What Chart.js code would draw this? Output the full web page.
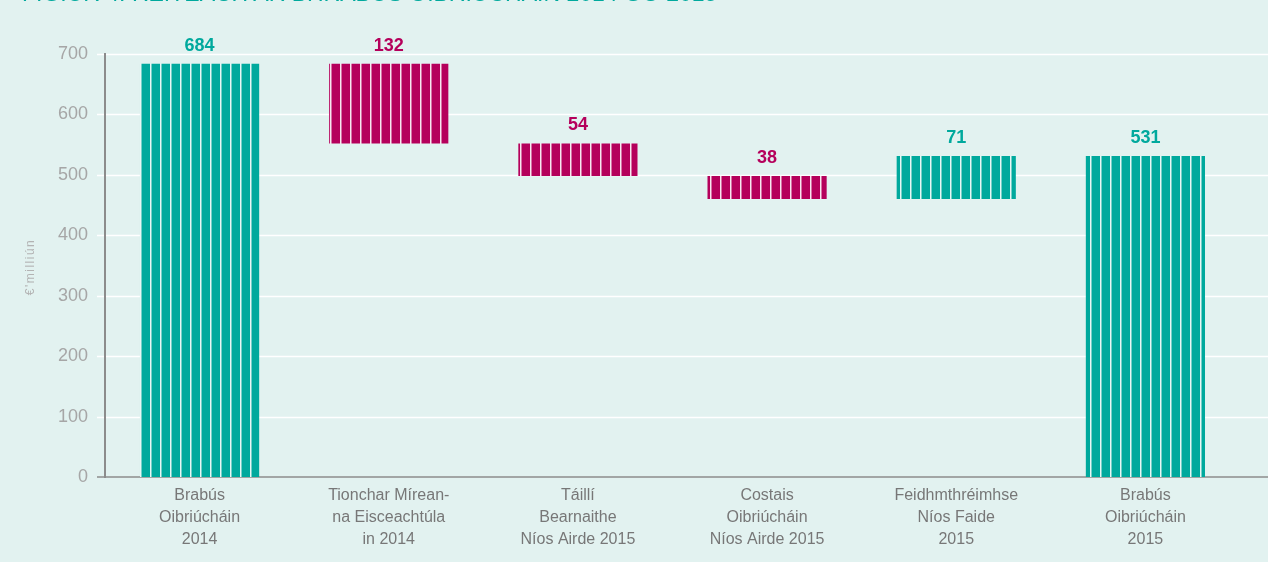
<!DOCTYPE html>
<html>
<head>
<meta charset="utf-8">
<script src="https://cdn.jsdelivr.net/npm/chart.js@4.4.0/dist/chart.umd.min.js"></script>
<style>
  html, body { margin: 0; padding: 0; background: #e2f2f0; overflow: hidden; }
  #wrap { position: relative; width: 1268px; height: 562px; }
  #title { position: absolute; left: 22px; top: -18px; font: 23px "Liberation Sans", Arial, sans-serif;
           line-height: 23px; color: #00a99d; white-space: nowrap; }
</style>
</head>
<body>
<div id="wrap">
  <div id="title">FIGIÚR 4: RÉITEACH AR BHRABÚS OIBRIÚCHÁIN 2014 GO 2015</div>
  <canvas id="myChart" width="1268" height="562"></canvas>
</div>
<script>
// categories (x axis, multi-line)
var categories = [
  ["Brabús", "Oibriúcháin", "2014"],
  ["Tionchar Mírean-", "na Eisceachtúla", "in 2014"],
  ["Táillí", "Bearnaithe", "Níos Airde 2015"],
  ["Costais", "Oibriúcháin", "Níos Airde 2015"],
  ["Feidhmthréimhse", "Níos Faide", "2015"],
  ["Brabús", "Oibriúcháin", "2015"]
];
// change per step; totals are marked in isTotal
var values = [684, -132, -54, -38, 71, 531];
var isTotal = [true, false, false, false, false, true];
var yTicks = [0, 100, 200, 300, 400, 500, 600, 700];
var yTitle = "€'milliún";

var teal = '#00a99d';
var magenta = '#b5005b';

// build floating ranges for the waterfall
var ranges = [];
var running = 0;
for (var i = 0; i < values.length; i++) {
  if (isTotal[i]) {
    ranges.push([0, values[i]]);
    running = values[i];
  } else {
    ranges.push([running, running + values[i]]);
    running += values[i];
  }
}

function stripes(color) {
  var c = document.createElement('canvas');
  c.width = 10; c.height = 4;
  var g = c.getContext('2d');
  g.fillStyle = color;
  g.fillRect(0, 0, 10, 4);
  g.fillStyle = 'rgba(255,255,255,0.9)';
  g.fillRect(0, 0, 1.5, 4);
  return g.createPattern(c, 'repeat');
}
var tealPat = stripes(teal);
var magPat = stripes(magenta);

var barColors = values.map(function(v, i) { return (isTotal[i] || v > 0) ? tealPat : magPat; });
var labelColors = values.map(function(v, i) { return (isTotal[i] || v > 0) ? teal : magenta; });

// gridlines to the right edge, value labels, spaced y title
var extras = {
  id: 'extras',
  beforeDraw: function(chart) {
    var ctx = chart.ctx, y = chart.scales.y, a = chart.chartArea;
    ctx.save();
    ctx.strokeStyle = '#ffffff';
    ctx.lineWidth = 1.5;
    yTicks.forEach(function(t) {
      if (t === 0) return;
      var py = Math.round(y.getPixelForValue(t)) + 0.5;
      ctx.beginPath(); ctx.moveTo(97, py); ctx.lineTo(chart.width, py); ctx.stroke();
    });
    ctx.strokeStyle = '#8c8c8c';
    ctx.beginPath(); ctx.moveTo(97, a.bottom); ctx.lineTo(chart.width, a.bottom); ctx.stroke();
    ctx.restore();
  },
  afterDatasetsDraw: function(chart) {
    var ctx = chart.ctx;
    var meta = chart.getDatasetMeta(0);
    ctx.save();
    ctx.font = 'bold 18px "Liberation Sans", Arial, sans-serif';
    ctx.textAlign = 'center';
    ctx.textBaseline = 'alphabetic';
    meta.data.forEach(function(bar, i) {
      var top = Math.min(bar.y, bar.base);
      ctx.fillStyle = labelColors[i];
      ctx.fillText(String(Math.abs(values[i])), bar.x, top - 13);
    });
    ctx.restore();
  },
  afterDraw: function(chart) {
    var ctx = chart.ctx;
    ctx.save();
    ctx.translate(31, 267);
    ctx.rotate(-Math.PI / 2);
    ctx.font = '12px "Liberation Sans", Arial, sans-serif';
    if ('letterSpacing' in ctx) ctx.letterSpacing = '1.5px';
    ctx.fillStyle = '#b3b3b3';
    ctx.textAlign = 'center';
    ctx.textBaseline = 'middle';
    ctx.fillText(yTitle, 0, 0);
    ctx.restore();
  }
};

var ctx = document.getElementById('myChart');
var myChart = new Chart(ctx, {
  type: 'bar',
  data: {
    labels: categories,
    datasets: [{
      data: ranges,
      backgroundColor: barColors,
      borderWidth: 0,
      barPercentage: 0.63,
      categoryPercentage: 1
    }]
  },
  options: {
    responsive: false,
    animation: false,
    layout: { padding: { top: 54, right: 28, left: 0, bottom: 0 } },
    plugins: { legend: { display: false }, tooltip: { enabled: false } },
    scales: {
      x: {
        afterFit: function(s) { s.height = 85; },
        grid: { display: false, drawTicks: false },
        border: { display: false },
        ticks: {
          color: '#777777',
          padding: 7,
          maxRotation: 0,
          autoSkip: false,
          font: { family: '"Liberation Sans", Arial, sans-serif', size: 16, lineHeight: 1.4 }
        }
      },
      y: {
        min: 0,
        max: 700,
        afterFit: function(s) { s.width = 105; },
        afterBuildTicks: function(s) { s.ticks = yTicks.map(function(v) { return { value: v }; }); },
        grid: { display: false },
        border: { display: true, color: '#8c8c8c', width: 2 },
        ticks: {
          color: '#a6a6a6',
          padding: 9,
          font: { family: '"Liberation Sans", Arial, sans-serif', size: 18 }
        }
      }
    }
  },
  plugins: [extras]
});
</script>
</body>
</html>
